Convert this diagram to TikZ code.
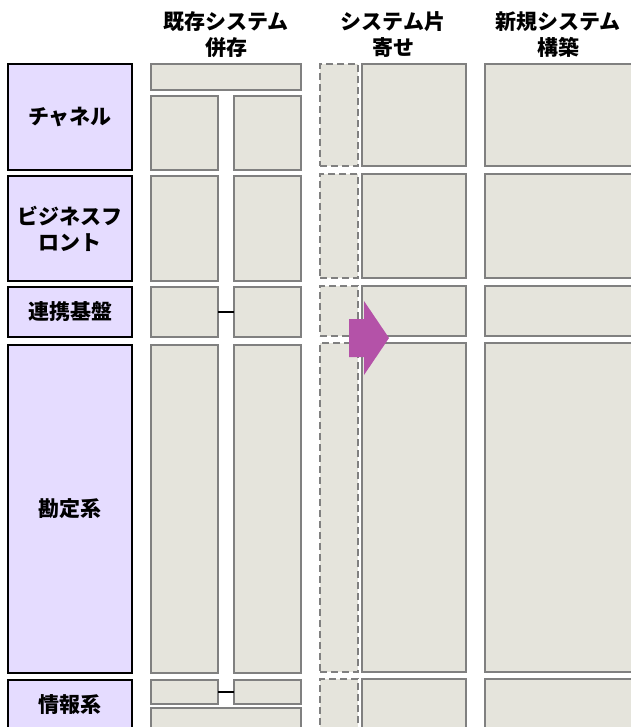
\documentclass[tikz,border=0pt]{standalone}
\usepackage{fontspec}
\newfontfamily\jp{Noto Sans CJK JP}
\definecolor{lav}{RGB}{229,220,255}
\definecolor{boxg}{RGB}{229,228,220}
\definecolor{bordg}{RGB}{128,128,128}
\definecolor{arrc}{RGB}{180,82,168}
\newcommand\rbox[7]{\node[#2, anchor=north west, inner sep=0pt, outer sep=0pt, minimum width={(#5)-(#3)}, minimum height={(#6)-(#4)}] (#1) at (#3,#4) {#7};}
\begin{document}
\begin{tikzpicture}[x=1pt,y=-1pt,
  jpf/.style={font=\jp\bfseries\fontsize{21}{26}\selectfont},
  lbl/.style={draw=black, line width=2pt, fill=lav, text=black, jpf, align=center},
  gb/.style={draw=bordg, line width=2pt, fill=boxg},
  db/.style={draw=bordg, line width=2pt, fill=boxg, dash pattern=on 7pt off 4pt},
  hdr/.style={jpf, align=center, inner sep=0pt},
  link/.style={draw=black, line width=2pt}]
\useasboundingbox (0,0) rectangle (630,727);
% headers
\node[hdr] (h1) at (226,34.5) {既存システム\\併存};
\node[hdr] (h2) at (393,34.5) {システム片\\寄せ};
\node[hdr] (h3) at (558,34.5) {新規システム\\構築};
% labels
\rbox{lch}{lbl}{8}{64}{132}{170}{チャネル}
\rbox{lbf}{lbl}{8}{176}{132}{281}{ビジネスフ\\ロント}
\rbox{lrk}{lbl}{8}{287}{132}{337}{連携基盤}
\rbox{lkt}{lbl}{8}{345}{132}{673}{勘定系}
\rbox{ljh}{lbl}{8}{680}{132}{730}{情報系}
% column 1
\rbox{a0}{gb}{151}{64}{301}{90}{}
\rbox{a1l}{gb}{151}{96}{218}{170}{}
\rbox{a1r}{gb}{234}{96}{301}{170}{}
\rbox{a2l}{gb}{151}{176}{218}{281}{}
\rbox{a2r}{gb}{234}{176}{301}{281}{}
\rbox{a3l}{gb}{151}{287}{218}{337}{}
\rbox{a3r}{gb}{234}{287}{301}{337}{}
\rbox{a4l}{gb}{151}{345}{218}{673}{}
\rbox{a4r}{gb}{234}{345}{301}{673}{}
\rbox{a5l}{gb}{151}{680}{218}{704}{}
\rbox{a5r}{gb}{234}{680}{301}{704}{}
\rbox{a6}{gb}{151}{708}{301}{740}{}
\draw[link] (a3l.east) -- (a3r.west);
\draw[link] (a5l.east) -- (a5r.west);
% column 2 dashed
\rbox{d1}{db}{320}{64}{358}{166}{}
\rbox{d2}{db}{320}{174}{358}{278}{}
\rbox{d3}{db}{320}{286}{358}{336}{}
\rbox{d4}{db}{320}{343}{358}{672}{}
\rbox{d5}{db}{320}{679}{358}{740}{}
% column 2 solid
\rbox{b1}{gb}{362}{64}{466}{166}{}
\rbox{b2}{gb}{362}{174}{466}{278}{}
\rbox{b3}{gb}{362}{286}{466}{336}{}
\rbox{b4}{gb}{362}{343}{466}{672}{}
\rbox{b5}{gb}{362}{679}{466}{740}{}
% column 3
\rbox{c1}{gb}{485}{64}{650}{166}{}
\rbox{c2}{gb}{485}{174}{650}{278}{}
\rbox{c3}{gb}{485}{286}{650}{336}{}
\rbox{c4}{gb}{485}{343}{650}{672}{}
\rbox{c5}{gb}{485}{679}{650}{740}{}
% arrow
\fill[arrc] (349,319) -- (364,319) -- (364,301) -- (389,338) -- (364,375) -- (364,357) -- (349,357) -- cycle;
\end{tikzpicture}
\end{document}
